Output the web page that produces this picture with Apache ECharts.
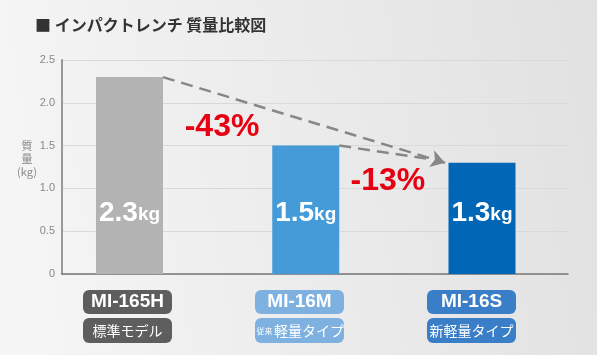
<!DOCTYPE html>
<html>
<head>
<meta charset="utf-8">
<style>
  html, body { margin: 0; padding: 0; }
  #chart { width: 597px; height: 355px; }
</style>
<script src="https://cdn.jsdelivr.net/npm/echarts@6/dist/echarts.min.js"></script>
</head>
<body>
<div id="chart"></div>
<script>
  // data
  const models = ['MI-165H', 'MI-16M', 'MI-16S'];
  const typePrefix = ['', '従来', ''];
  const typeNames = ['標準モデル', '軽量タイプ', '新軽量タイプ'];
  const weights = [2.3, 1.5, 1.3];
  const xPos = [0, 1, 2];
  const reductions = ['-43%', '-13%'];
  const yTicks = [0, 0.5, 1.0, 1.5, 2.0, 2.5];
  const yName = '質\n量\n(kg)';

  const barColors = ['#b3b3b3', '#459bd8', '#0066b5'];
  const boxColors = ['#5e5e5e', '#7fb1e0', '#3b7ec8'];
  const jp = '"Noto Sans CJK JP", sans-serif';
  const latin = '"Liberation Sans", Arial, sans-serif';
  const barHalf = 0.19; // half bar width in x units (67px / 176px)

  const chart = echarts.init(document.getElementById('chart'));

  const rich = { g: { fontSize: 2, height: 4, lineHeight: 4 } };
  models.forEach((m, i) => {
    rich['m' + i] = {
      width: 89, height: 24, lineHeight: 24, align: 'center',
      backgroundColor: boxColors[i], borderRadius: 6,
      color: '#fff', fontSize: 19, fontWeight: 'bold', fontFamily: latin,
    };
    rich['t' + i] = {
      width: 89, height: 25, lineHeight: 25, align: 'center',
      backgroundColor: boxColors[i], borderRadius: 6,
      color: '#fff', fontSize: 14, fontFamily: jp,
    };
    rich['p' + i] = {
      width: 19, height: 25, lineHeight: 25, align: 'right',
      backgroundColor: boxColors[i], borderRadius: [6, 0, 0, 6],
      color: '#fff', fontSize: 8, fontFamily: jp,
    };
    rich['q' + i] = {
      width: 70, height: 25, lineHeight: 25, align: 'left',
      backgroundColor: boxColors[i], borderRadius: [0, 6, 6, 0],
      color: '#fff', fontSize: 14, fontFamily: jp,
    };
  });

  chart.setOption({
    backgroundColor: {
      type: 'linear', x: 0, y: 0.3, x2: 1, y2: 0,
      colorStops: [
        { offset: 0, color: '#f5f5f5' },
        { offset: 1, color: '#e1e1e1' },
      ],
    },
    animation: false,
    title: {
      text: '■ インパクトレンチ 質量比較図',
      left: 30,
      top: 12,
      textStyle: { fontSize: 16, fontWeight: 'bold', color: '#333', fontFamily: jp },
    },
    // y axis name, centred lines
    graphic: [
      {
        type: 'text',
        x: 27,
        y: 139,
        style: {
          text: yName,
          fill: '#888',
          font: '11px "Noto Sans CJK JP", sans-serif',
          lineHeight: 13,
          align: 'center',
          verticalAlign: 'top',
        },
      },
    ],
    grid: [
      { left: 62, right: 29, top: 60, bottom: 81 },
      { left: 41.5, right: 39.5, top: 60, bottom: 81 },
    ],
    xAxis: [
      {
        type: 'value',
        gridIndex: 0,
        min: -0.383,
        max: 2.488,
        axisLine: { show: true, onZero: false, lineStyle: { color: '#777', width: 1.5 } },
        axisTick: { show: false },
        axisLabel: { show: false },
        splitLine: { show: false },
      },
      {
        type: 'category',
        gridIndex: 1,
        data: models,
        axisLine: { show: false },
        axisTick: { show: false },
        axisLabel: {
          margin: 16,
          interval: 0,
          formatter: (val, i) => {
            const second = typePrefix[i]
              ? `{p${i}|${typePrefix[i]}}{q${i}|${typeNames[i]}}`
              : `{t${i}|${typeNames[i]}}`;
            return `{m${i}|${val}}\n{g| }\n${second}`;
          },
          rich: rich,
        },
      },
    ],
    yAxis: [
      {
        type: 'value',
        gridIndex: 0,
        min: yTicks[0],
        max: yTicks[yTicks.length - 1],
        interval: 0.5,
        axisLine: { show: true, onZero: false, lineStyle: { color: '#999', width: 2 } },
        axisTick: { show: false },
        axisLabel: {
          color: '#888', fontSize: 11, margin: 7, fontFamily: latin,
          formatter: (v) => (v === 0 ? '0' : v.toFixed(1)),
        },
        splitLine: { show: true, lineStyle: { color: '#d9d9d9', width: 1 } },
      },
      { type: 'value', gridIndex: 1, show: false },
    ],
    series: [
      {
        type: 'bar',
        xAxisIndex: 0,
        yAxisIndex: 0,
        barWidth: 67,
        data: weights.map((w, i) => ({
          value: [xPos[i], w],
          itemStyle: { color: barColors[i] },
        })),
        label: {
          show: true,
          position: 'insideBottom',
          distance: 47,
          formatter: (p) => `{n|${p.value[1].toFixed(1)}}{u|kg}`,
          rich: {
            n: { color: '#fff', fontSize: 28, fontWeight: 'bold', fontFamily: latin },
            u: { color: '#fff', fontSize: 19, fontWeight: 'bold', fontFamily: latin, padding: [4, 0, 0, 0] },
          },
        },
        markLine: {
          silent: true,
          animation: false,
          label: { show: false },
          lineStyle: { type: [12, 7], color: '#878787', width: 2.5 },
          data: [
            [
              { coord: [xPos[0] + barHalf, weights[0]], symbol: 'none' },
              { coord: [xPos[2] - barHalf - 0.02, weights[2]], symbol: 'arrow', symbolSize: [13, 14] },
            ],
            [
              { coord: [xPos[1] + barHalf, weights[1]], symbol: 'none' },
              { coord: [1.705, 1.343], symbol: 'none' },
            ],
          ],
        },
        markPoint: {
          silent: true,
          symbol: 'circle',
          symbolSize: 1,
          itemStyle: { color: 'transparent' },
          label: {
            show: true,
            position: 'inside',
            color: '#e60012',
            fontSize: 32,
            fontWeight: 'bold',
            fontFamily: latin,
            formatter: (p) => p.name,
          },
          data: [
            { name: reductions[0], coord: [0.525, 1.72] },
            { name: reductions[1], coord: [1.466, 1.09] },
          ],
        },
      },
    ],
  });
</script>
</body>
</html>
